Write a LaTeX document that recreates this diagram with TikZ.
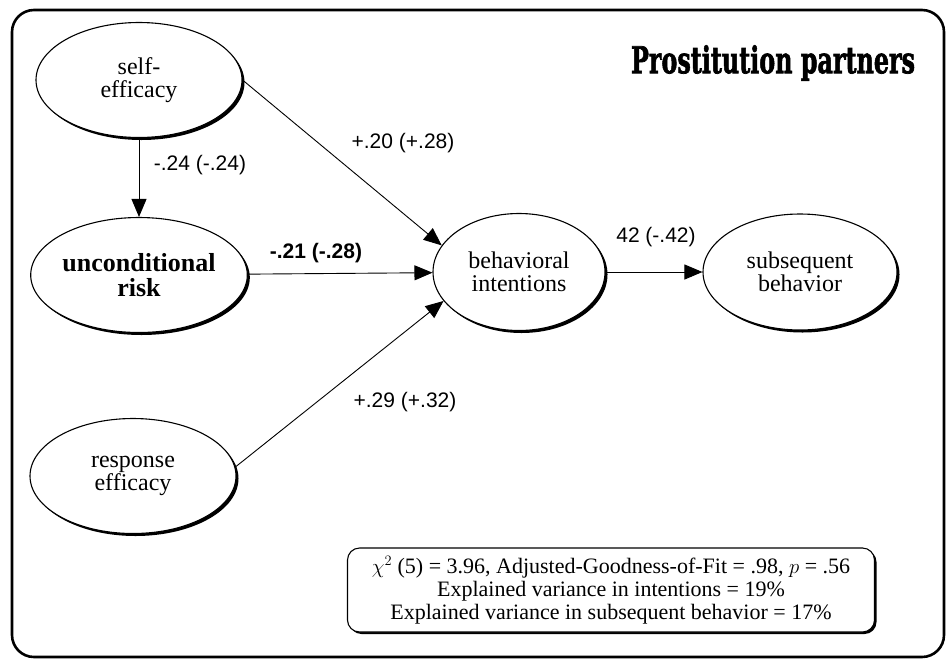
\documentclass[tikz,border=0pt]{standalone}
\usepackage{fontspec}
\setmainfont{Liberation Serif}
\newfontfamily\coeffont{Liberation Sans}
\newfontfamily\titlefont{DejaVu Serif}[FakeBold=2]
\usetikzlibrary{arrows.meta,shapes.geometric,shadows}

\begin{document}
\begin{tikzpicture}[x=1pt,y=-1pt,>={Triangle[length=18pt,width=15pt]},
  latent/.style={ellipse,draw,line width=1.1pt,fill=white,inner sep=0pt,
    minimum width=206pt,minimum height=115pt,align=center,
    font=\fontsize{24}{23}\selectfont,
    drop shadow={shadow xshift=2.5pt,shadow yshift=-2.5pt,fill=black,opacity=1}},
  coef/.style={font=\coeffont\fontsize{21}{22}\selectfont,inner sep=1pt},
  path/.style={->,line width=0.9pt}]
  \useasboundingbox (0,0) rectangle (949,662);

  % outer frame
  \draw[line width=2.6pt,rounded corners=22pt] (12,10) rectangle (944,657);

  \node (title) at (773,63)
    {\resizebox{284pt}{28pt}{\titlefont\bfseries Prostitution partners}};

  % the five constructs
  \node[latent] (self) at (139,80) {self-\\efficacy};
  \node[latent,font=\bfseries\fontsize{26}{25}\selectfont] (risk) at (139,275)
    {unconditional\\risk};
  \node[latent] (resp) at (133,476) {response\\efficacy};
  \node[latent,minimum width=172pt,minimum height=117pt] (intent) at (519,272)
    {behavioral\\intentions};
  \node[latent,minimum width=194pt,minimum height=116pt] (behav) at (800,272)
    {subsequent\\behavior};

  % paths with coefficients
  \draw[path] (self) -- (risk);
  \draw[path] (self.east) -- (intent.161);
  \draw[path] (risk) -- (intent);
  \draw[path] (resp.5) -- (intent.201);
  \draw[path] (intent) -- (behav);

  \node[coef] (c1) at (200,165) {-.24 (-.24)};
  \node[coef] (c2) at (403,143) {+.20 (+.28)};
  \node[coef,font=\coeffont\bfseries\fontsize{21}{22}\selectfont] (c3) at (316,253)
    {-.21 (-.28)};
  \node[coef] (c4) at (405,402) {+.29 (+.32)};
  \node[coef] (c5) at (656,237) {42 (-.42)};

  % fit statistics
  \node[draw,line width=1.1pt,fill=white,rounded corners=12pt,align=center,
    minimum width=527pt,minimum height=84pt,
    font=\fontsize{22}{23}\selectfont,
    drop shadow={shadow xshift=2pt,shadow yshift=-2pt,fill=black,opacity=1}]
    (fit) at (611,590)
    {$\chi^{2}$ (5) = 3.96, Adjusted-Goodness-of-Fit = .98, $p$ = .56\\
     Explained variance in intentions = 19\%\\
     Explained variance in subsequent behavior = 17\%};
\end{tikzpicture}
\end{document}
